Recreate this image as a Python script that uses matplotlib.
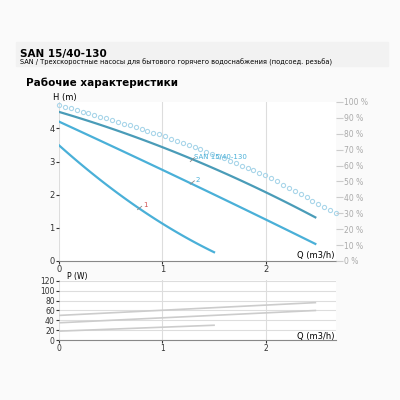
import matplotlib
matplotlib.use("Agg")
import matplotlib.pyplot as plt
import numpy as np

q_main = [0, 0.5, 1.0, 1.5, 2.0, 2.48]
h_main = [4.5, 4.0, 3.45, 2.8, 2.05, 1.33]
q_2 = [0, 0.5, 1.0, 1.5, 2.0, 2.48]
h_2 = [4.2, 3.5, 2.75, 2.0, 1.25, 0.52]
q_1 = [0, 0.25, 0.5, 0.75, 1.0, 1.25, 1.5]
h_1 = [3.4, 2.95, 2.25, 1.62, 1.05, 0.64, 0.32]
q_eff = [0, 0.5, 1.0, 1.5, 2.0, 2.68]
eff = [98, 89, 79, 67, 54, 30]
q_p = [0, 2.48]
p_main = [50, 76]
p_2 = [35, 60]
q_p1 = [0, 1.5]
p_1 = [18, 30]

def smooth(x, y, deg=3, n=60):
    xs = np.linspace(x[0], x[-1], n)
    c = np.polyfit(x, y, deg)
    return xs, np.polyval(c, xs)

fig = plt.figure(figsize=(4, 4), dpi=100)
fig.patch.set_facecolor('#fafafa')
fig.patches.append(plt.Rectangle((0.04, 0.835), 0.93, 0.06, transform=fig.transFigure, color='#f2f2f2', zorder=0))
fig.text(0.05, 0.858, 'SAN 15/40-130', fontsize=7.5, fontweight='bold')
fig.text(0.05, 0.838, 'SAN / Трехскоростные насосы для бытового горячего водоснабжения (подсоед. резьба)', fontsize=4.8)
fig.text(0.065, 0.785, 'Рабочие характеристики', fontsize=7.5, fontweight='bold')

W, H = 400, 400
ax = fig.add_axes([59/W, 1-261/H, (336-59)/W, (261-102)/H])
ax.set_facecolor('white')
ax.set_xlim(0, 2.68); ax.set_ylim(0, 4.8)
ax.plot(*smooth(q_main, h_main, 2), color='#4a9cb8', lw=1.6)
ax.plot(*smooth(q_2, h_2, 2), color='#4ab0d8', lw=1.6)
ax.plot(*smooth(q_1, h_1, 2), color='#4ab0d8', lw=1.6)
qe = np.linspace(0, 2.68, 48)
ax.plot(qe, np.interp(qe, q_eff, eff)*4.8/100, 'o', ms=3, mfc='none', mec='#aad6ea', mew=0.8, clip_on=False)
ax.plot([1.27, 1.31], [3.0, 3.12], color='#888888', lw=0.6)
ax.text(1.31, 3.08, 'SAN 15/40-130', fontsize=5, color='#4ab0d8')
ax.plot([1.27, 1.31], [2.32, 2.42], color='#888888', lw=0.6)
ax.text(1.32, 2.38, '2', fontsize=5, color='#4ab0d8')
ax.plot([0.76, 0.8], [1.55, 1.65], color='#888888', lw=0.6)
ax.text(0.81, 1.62, '1', fontsize=5, color='#d05050')
ax.set_xticks([0, 1, 2]); ax.set_yticks([0, 1, 2, 3, 4])
ax.grid(axis='x', color='#dddddd', lw=0.8)
for s in ['top', 'right']: ax.spines[s].set_visible(False)
ax.spines['left'].set_visible(False)
ax.spines['bottom'].set_color('#888888')
ax.tick_params(labelsize=6, length=2, colors='#333333', pad=1)
ax.text(-0.02, 1.0, 'H (m)', transform=ax.transAxes, fontsize=6, ha='left', va='bottom')
ax.text(2.3, 0.1, 'Q (m3/h)', fontsize=6)
ax2 = ax.twinx()
ax2.set_ylim(0, 100)
ax2.set_yticks(range(0, 101, 10))
ax2.set_yticklabels([f'{v} %' for v in range(0, 101, 10)], fontsize=5.5, color='#aaaaaa')
ax2.tick_params(length=5, color='#cccccc', pad=1)
for s in ax2.spines.values(): s.set_visible(False)

bx = fig.add_axes([59/W, 1-340/H, (336-59)/W, (340-280)/H])
bx.set_facecolor('white')
bx.set_xlim(0, 2.68); bx.set_ylim(0, 122)
bx.plot(q_p, p_main, color='#cccccc', lw=1.2)
bx.plot(q_p, p_2, color='#cccccc', lw=1.2)
bx.plot(q_p1, p_1, color='#cccccc', lw=1.2)
bx.set_xticks([0, 1, 2]); bx.set_yticks(range(0, 121, 20))
bx.grid(color='#dddddd', lw=0.8)
for s in ['top', 'right', 'left']: bx.spines[s].set_visible(False)
bx.spines['bottom'].set_color('#888888')
bx.tick_params(labelsize=5.5, length=2, colors='#333333', pad=1)
bx.text(0.03, 0.99, 'P (W)', transform=bx.transAxes, fontsize=5.5, ha='left', va='bottom')
bx.text(2.3, 2, 'Q (m3/h)', fontsize=6)
fig.savefig('out.png', dpi=100, facecolor=fig.get_facecolor())
